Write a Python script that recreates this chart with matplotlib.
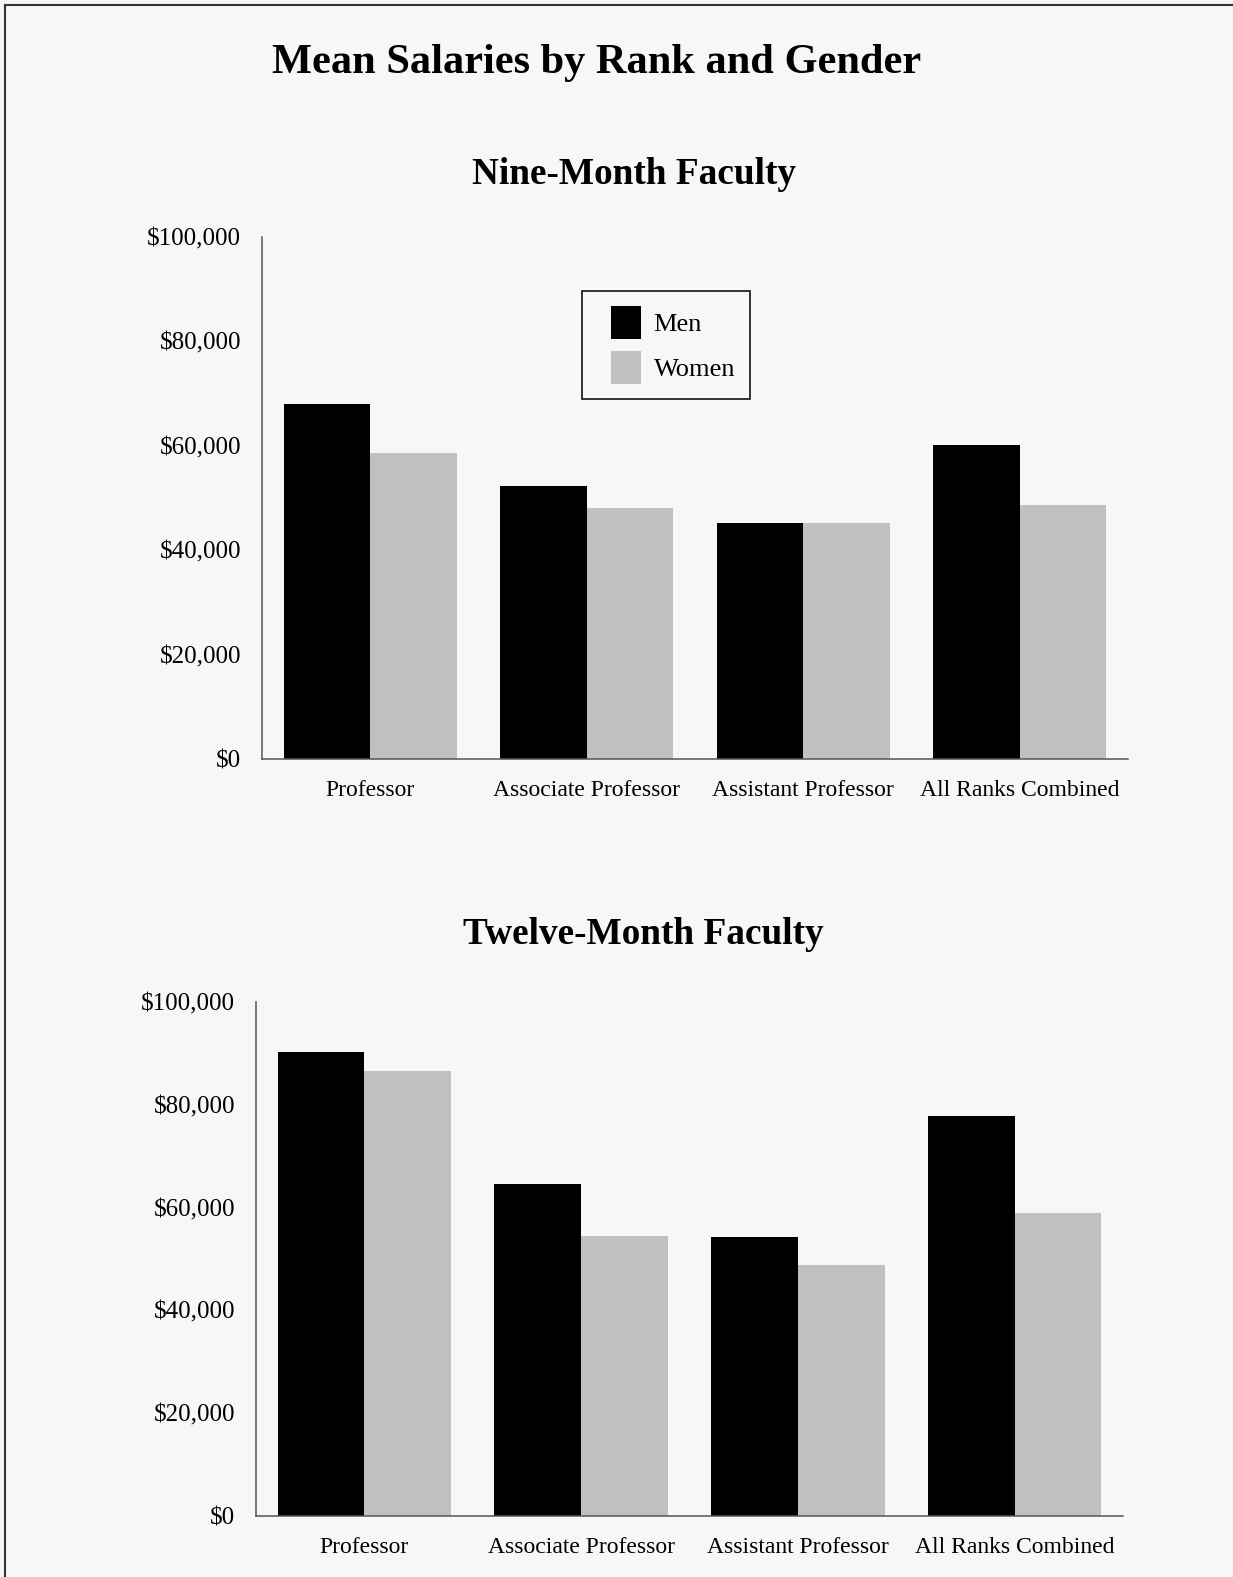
import matplotlib

matplotlib.use("Agg")
import matplotlib.pyplot as plt
from matplotlib.container import BarContainer
from matplotlib.legend_handler import HandlerPatch
from matplotlib.lines import Line2D
from matplotlib.patches import Rectangle
from matplotlib.ticker import FuncFormatter


PALETTE = {
    "ink": "#000000",
    "men": "#000000",
    "women": "#C0C0C0",
    "axis": "#555555",
    "paper": "#F7F7F7",
}

RANKS = ["Professor", "Associate Professor", "Assistant Professor", "All Ranks Combined"]
SERIES = ["Men", "Women"]

# mean salaries
NINE_MEN = [68100, 52300, 45200, 60200]
NINE_WOMEN = [58600, 48100, 45200, 48700]
TWELVE_MEN = [90200, 64600, 54300, 77900]
TWELVE_WOMEN = [86600, 54500, 48800, 58900]

Y_TICKS = [0, 20000, 40000, 60000, 80000, 100000]

W, H = 1233, 1577
LEGEND_SIZE = 19


def money(v, _pos=None):
    return f"${v:,.0f}"


def square_handle(legend, orig_handle, xdescent, ydescent, width, height, fontsize):
    # square swatch pushed to the right of the handle box
    side = 21.6
    return Rectangle((-xdescent + width - side, -ydescent), side, height)


def from_first_bar(handle, orig):
    handle.update_from(orig.patches[0])


def style_ax(ax):
    ax.set_facecolor(PALETTE["paper"])
    ax.spines["top"].set_visible(False)
    ax.spines["right"].set_visible(False)
    for side in ("left", "bottom"):
        ax.spines[side].set_color(PALETTE["axis"])
        ax.spines[side].set_linewidth(1.1)
    ax.set_xlim(-0.5, 3.5)
    ax.set_ylim(0, 100000)
    ax.set_yticks(Y_TICKS)
    ax.yaxis.set_major_formatter(FuncFormatter(money))
    ax.set_xticks(range(len(RANKS)))
    ax.set_xticklabels(RANKS)
    ax.tick_params(axis="y", length=0, pad=15, labelsize=18)
    ax.tick_params(axis="x", length=0, pad=15, labelsize=17)


def draw_panel(ax, men, women):
    x = list(range(len(RANKS)))
    ax.bar([i - 0.2 for i in x], men, width=0.4, color=PALETTE["men"], label=SERIES[0])
    ax.bar([i + 0.2 for i in x], women, width=0.4, color=PALETTE["women"], label=SERIES[1])
    style_ax(ax)


def fx(px):
    return px / W


def fy(py):
    return 1 - py / H


def main():
    plt.rcParams["font.family"] = ["Liberation Serif", "DejaVu Serif"]
    plt.rcParams["text.parse_math"] = False

    fig = plt.figure(figsize=(W / 100, H / 100), dpi=100, facecolor=PALETTE["paper"])

    ax_top = fig.add_axes([fx(262), fy(759), fx(1128 - 262), (759 - 237) / H])
    ax_bot = fig.add_axes([fx(256), fy(1516), fx(1123 - 256), (1516 - 1002) / H])

    draw_panel(ax_top, NINE_MEN, NINE_WOMEN)
    draw_panel(ax_bot, TWELVE_MEN, TWELVE_WOMEN)

    leg = ax_top.legend(
        loc="upper left",
        bbox_to_anchor=(fx(582), fy(291)),
        bbox_transform=fig.transFigure,
        fontsize=LEGEND_SIZE,
        frameon=True,
        fancybox=False,
        handlelength=1.67,
        handleheight=1.55,
        handletextpad=0.49,
        labelspacing=0.48,
        borderpad=0.55,
        borderaxespad=0,
        handler_map={BarContainer: HandlerPatch(patch_func=square_handle, update_func=from_first_bar)},
    )
    leg.get_frame().set_edgecolor(PALETTE["ink"])
    leg.get_frame().set_facecolor(PALETTE["paper"])
    leg.get_frame().set_linewidth(1.1)
    leg.get_frame().set_alpha(1)

    fig.text(fx(597), fy(73), "Mean Salaries by Rank and Gender", ha="center", va="baseline",
             fontsize=30.5, weight="bold", color=PALETTE["ink"])
    fig.text(fx(634), fy(184), "Nine-Month Faculty", ha="center", va="baseline",
             fontsize=26.8, weight="bold", color=PALETTE["ink"])
    fig.text(fx(643), fy(944), "Twelve-Month Faculty", ha="center", va="baseline",
             fontsize=26.8, weight="bold", color=PALETTE["ink"])

    # page frame, only the left and top edges show in the original
    fig.add_artist(Line2D([fx(4.5), fx(4.5)], [0, fy(4.5)], transform=fig.transFigure,
                          color="#333333", lw=1.5))
    fig.add_artist(Line2D([fx(4.5), 1], [fy(4.5), fy(4.5)], transform=fig.transFigure,
                          color="#333333", lw=1.5))

    fig.savefig("out.png", dpi=100, facecolor=fig.get_facecolor())
    plt.close(fig)


if __name__ == "__main__":
    main()
